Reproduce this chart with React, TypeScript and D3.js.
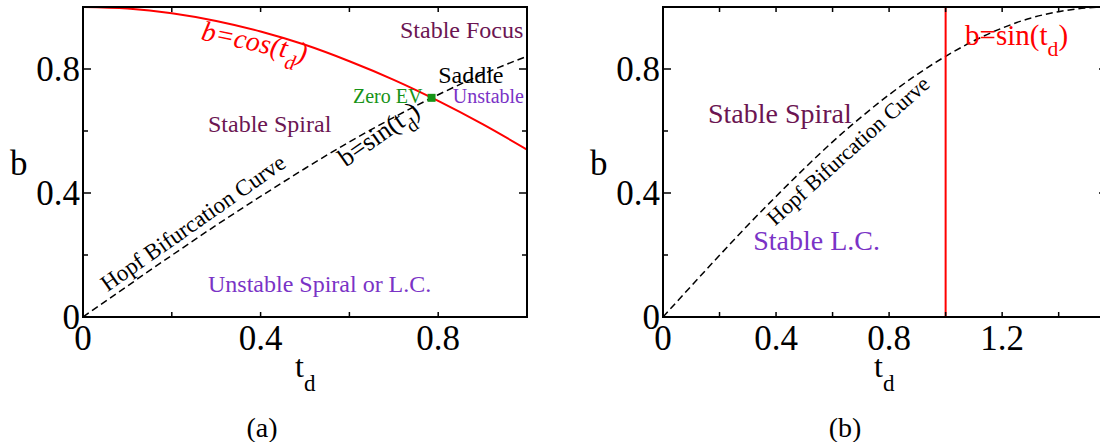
import React from 'react';
import * as d3 from 'd3';

// ---- data ----
const tSin = [0, 0.1, 0.2, 0.3, 0.4, 0.5, 0.6, 0.7, 0.8, 0.9, 1.0, 1.1, 1.2, 1.3, 1.4, 1.5, 1.571];
const bSin = [0, 0.100, 0.199, 0.296, 0.389, 0.479, 0.565, 0.644, 0.717, 0.783, 0.841, 0.891, 0.932, 0.964, 0.985, 0.997, 1.0];
const tCos = [0, 0.1, 0.2, 0.3, 0.4, 0.5, 0.6, 0.7, 0.8, 0.9, 1.0];
const bCos = [1.0, 0.995, 0.980, 0.955, 0.921, 0.878, 0.825, 0.765, 0.697, 0.622, 0.540];
const zeroEV = { t: 0.785, b: 0.707 };
const verticalT = 1.0;

const leftXTicks = [0, 0.2, 0.4, 0.6, 0.8, 1.0];
const leftXLabels = [0, 0.4, 0.8];
const rightXTicks = [0, 0.2, 0.4, 0.6, 0.8, 1.0, 1.2, 1.4];
const rightXLabels = [0, 0.4, 0.8, 1.2];
const yTicks = [0, 0.2, 0.4, 0.6, 0.8, 1.0];
const yLabels = [0, 0.4, 0.8];

const leftX = [0, 1];
const rightX = [0, 1.571];
const yDom = [0, 1];

const MAGENTA = '#6b1552';
const PURPLE = '#7a33c6';
const GREEN = '#179317';
const RED = '#ff0000';
const FONT = "'Liberation Serif', 'Times New Roman', serif";

type Ann = {
  text: string; sub?: string; after?: string; t: number; b: number;
  color: string; size: number; rot?: number; italic?: boolean;
};

const leftAnn: Ann[] = [
  { text: 'b=cos(t', sub: 'd', after: ')', t: 0.264, b: 0.895, color: RED, size: 28, rot: 12, italic: true },
  { text: 'Stable Focus', t: 0.714, b: 0.9, color: MAGENTA, size: 24 },
  { text: 'Saddle', t: 0.80, b: 0.755, color: '#000', size: 24 },
  { text: 'Zero EV', t: 0.608, b: 0.69, color: GREEN, size: 20 },
  { text: 'Unstable', t: 0.833, b: 0.69, color: PURPLE, size: 20 },
  { text: 'Stable Spiral', t: 0.2815, b: 0.597, color: MAGENTA, size: 24 },
  { text: 'Unstable Spiral or L.C.', t: 0.2815, b: 0.081, color: PURPLE, size: 24 },
  { text: 'b=sin(t', sub: 'd', after: ')', t: 0.592, b: 0.482, color: '#000', size: 26, rot: -35 },
  { text: 'Hopf Bifurcation Curve', t: 0.055, b: 0.08, color: '#000', size: 23, rot: -35 },
];

const rightAnn: Ann[] = [
  { text: 'b=sin(t', sub: 'd', after: ')', t: 1.069, b: 0.877, color: RED, size: 29 },
  { text: 'Stable Spiral', t: 0.159, b: 0.626, color: MAGENTA, size: 28 },
  { text: 'Stable L.C.', t: 0.319, b: 0.216, color: PURPLE, size: 28 },
  { text: 'Hopf Bifurcation Curve', t: 0.396, b: 0.292, color: '#000', size: 22, rot: -42 },
];

const fmt = (v: number) => (v === 0 ? '0' : d3.format('.1f')(v));

function Annotation({ a, x, y }: { a: Ann; x: d3.ScaleLinear<number, number>; y: d3.ScaleLinear<number, number> }) {
  const px = x(a.t);
  const py = y(a.b);
  return (
    <text
      x={px} y={py}
      transform={a.rot ? `rotate(${a.rot},${px},${py})` : undefined}
      fill={a.color}
      fontSize={a.size}
      fontStyle={a.italic ? 'italic' : 'normal'}
      fontFamily={FONT}
    >
      {a.text}
      {a.sub && <tspan fontSize={a.size * 0.75} dy={a.size * 0.38}>{a.sub}</tspan>}
      {a.after && <tspan dy={-a.size * 0.38}>{a.after}</tspan>}
    </text>
  );
}

function Panel(props: {
  left: number; right: number; xDom: number[]; xTicks: number[]; xLabels: number[];
  anns: Ann[]; which: 'a' | 'b';
}) {
  const top = 7, bottom = 317;
  const x = d3.scaleLinear().domain(props.xDom).range([props.left, props.right]);
  const y = d3.scaleLinear().domain(yDom).range([bottom, top]);
  const line = d3.line<number>().curve(d3.curveMonotoneX);
  const sinPts = tSin.map((t, i) => [x(t), y(bSin[i])] as [number, number]);
  const cosPts = tCos.map((t, i) => [x(t), y(bCos[i])] as [number, number]);
  const labelSize = 35;
  const xTitleX = props.which === 'a' ? 295 : 874;
  return (
    <g>
      <defs>
        <clipPath id={`clip-${props.which}`}>
          <rect x={props.left} y={top} width={props.right - props.left} height={bottom - top} />
        </clipPath>
      </defs>
      <g clipPath={`url(#clip-${props.which})`}>
        <path d={line(sinPts as any) || ''} fill="none" stroke="#000" strokeWidth={1.5} strokeDasharray="7,4" />
        {props.which === 'a' && (
          <path d={line(cosPts as any) || ''} fill="none" stroke={RED} strokeWidth={2} />
        )}
        {props.which === 'b' && (
          <line x1={x(verticalT)} x2={x(verticalT)} y1={y(0)} y2={y(1)} stroke={RED} strokeWidth={2} />
        )}
      </g>
      {props.which === 'a' && (
        <rect x={x(zeroEV.t) - 4} y={y(zeroEV.b) - 4} width={8} height={8} fill={GREEN} />
      )}
      {/* frame */}
      <rect x={props.left} y={top} width={props.right - props.left} height={bottom - top} fill="none" stroke="#000" strokeWidth={2} />
      {/* x ticks */}
      {props.xTicks.map(t => (
        <g key={'xt' + t}>
          <line x1={x(t)} x2={x(t)} y1={bottom} y2={bottom - 5} stroke="#000" strokeWidth={1.5} />
          <line x1={x(t)} x2={x(t)} y1={top} y2={top + 5} stroke="#000" strokeWidth={1.5} />
        </g>
      ))}
      {/* y ticks */}
      {yTicks.map(b => {
        const major = yLabels.includes(b);
        const len = major ? 8 : 5;
        return (
          <g key={'yt' + b}>
            <line x1={props.left} x2={props.left + len} y1={y(b)} y2={y(b)} stroke="#000" strokeWidth={1.5} />
            <line x1={props.right} x2={props.right - len} y1={y(b)} y2={y(b)} stroke="#000" strokeWidth={1.5} />
          </g>
        );
      })}
      {props.xLabels.map(t => (
        <text key={'xl' + t} x={x(t)} y={bottom + 33} textAnchor="middle" fontSize={labelSize} fontFamily={FONT}>{fmt(t)}</text>
      ))}
      {yLabels.map(b => (
        <text key={'yl' + b} x={props.left - 3} y={y(b) + 12} textAnchor="end" fontSize={labelSize} fontFamily={FONT}>{fmt(b)}</text>
      ))}
      {/* axis titles */}
      <text x={props.left - 73} y={175} fontSize={35} fontFamily={FONT}>b</text>
      <text x={xTitleX} y={377} fontSize={32} fontFamily={FONT}>
        t<tspan fontSize={23} dy={14}>d</tspan>
      </text>
      <text x={props.which === 'a' ? 262 : 845} y={437} textAnchor="middle" fontSize={28} fontFamily={FONT}>({props.which})</text>
      {props.anns.map((a, i) => <Annotation key={i} a={a} x={x} y={y} />)}
    </g>
  );
}

export default function App() {
  return (
    <svg width={1100} height={442} style={{ position: 'absolute', left: 0, top: 0, background: '#fff' }}>
      <rect width={1100} height={442} fill="#fff" />
      <Panel left={83} right={527} xDom={leftX} xTicks={leftXTicks} xLabels={leftXLabels} anns={leftAnn} which="a" />
      <Panel left={663} right={1107} xDom={rightX} xTicks={rightXTicks} xLabels={rightXLabels} anns={rightAnn} which="b" />
    </svg>
  );
}
